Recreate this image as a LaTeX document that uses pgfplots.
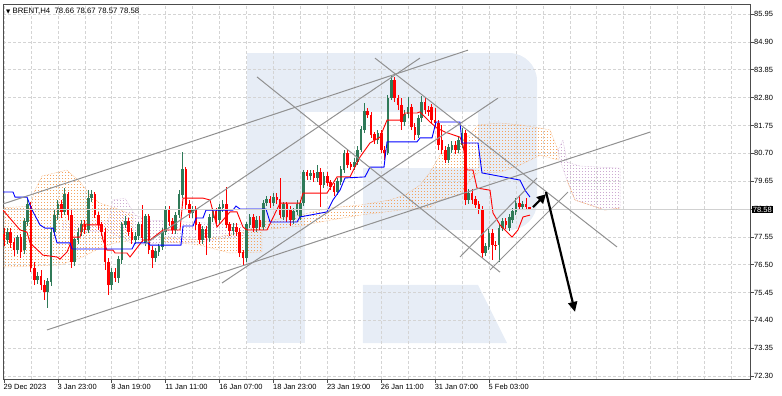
\documentclass[border=0pt]{standalone}
\usepackage{fontspec}
\setmainfont{Liberation Sans}
\newfontfamily\dejavu{DejaVu Sans}
\usepackage{pgfplots}
\usepackage{pgfplotstable}
\pgfplotsset{compat=1.18}
\usetikzlibrary{patterns,arrows.meta}

\definecolor{bull}{RGB}{47,122,88}
\definecolor{bear}{RGB}{255,0,0}
\definecolor{sandy}{RGB}{244,164,96}
\definecolor{thist}{RGB}{205,170,210}
\definecolor{logo}{RGB}{231,237,246}
\definecolor{gridc}{RGB}{212,212,212}
\definecolor{tline}{RGB}{145,145,145}
\definecolor{kij}{RGB}{0,0,255}

\pgfdeclarepatternformonly{ichi}{\pgfqpoint{0pt}{0pt}}{\pgfqpoint{3.368pt}{2.5pt}}{\pgfqpoint{3.368pt}{2.5pt}}{%
  \pgfpathrectangle{\pgfqpoint{0pt}{0pt}}{\pgfqpoint{1.0pt}{1.1pt}}\pgfusepath{fill}}

\pgfplotstableread{
i o h l c
0 77.62 77.88 77.20 77.43
1 77.43 77.88 77.28 77.73
2 77.73 77.88 77.13 77.32
3 77.32 77.51 76.83 77.05
4 77.05 77.62 76.90 77.51
5 77.51 77.66 76.75 76.98
6 77.05 78.26 76.90 78.11
7 78.11 79.01 77.96 78.75
8 78.71 78.86 76.22 76.37
9 76.37 76.60 75.73 75.92
10 75.92 76.22 75.77 76.07
11 76.07 76.30 75.55 75.73
12 75.73 75.92 75.17 75.47
13 75.47 76.00 74.87 75.85
14 75.85 77.88 75.70 77.73
15 77.73 78.56 77.58 78.37
16 78.37 78.94 78.18 78.75
17 78.75 78.94 78.26 78.49
18 78.49 79.39 78.37 79.13
19 79.13 79.24 78.18 78.37
20 78.37 78.56 76.37 76.60
21 76.60 77.51 76.45 77.43
22 77.43 77.88 77.28 77.73
23 77.73 78.18 77.58 78.03
24 78.03 78.18 77.66 77.81
25 77.81 79.31 77.69 79.01
26 79.01 79.31 78.86 79.13
27 79.13 79.24 78.26 78.37
28 78.37 78.49 77.81 78.00
29 78.00 78.11 77.58 77.73
30 77.73 77.88 76.30 76.60
31 76.60 76.75 75.36 75.73
32 75.73 76.37 75.55 76.22
33 76.22 76.37 75.85 76.00
34 76.00 76.83 75.81 76.68
35 76.68 78.11 76.53 78.00
36 78.00 78.33 77.88 78.11
37 78.11 78.26 77.58 77.73
38 77.73 77.88 77.28 77.43
39 77.43 77.73 77.28 77.58
40 77.58 78.11 77.43 78.00
41 78.00 78.75 77.35 77.51
42 77.32 78.41 77.20 78.30
43 78.30 78.41 76.90 77.05
44 77.05 77.20 76.37 76.75
45 76.75 77.13 76.60 76.98
46 76.98 77.28 76.83 77.17
47 77.17 77.88 77.05 77.73
48 77.73 78.71 77.62 78.56
49 78.56 78.71 77.96 78.11
50 78.11 78.26 77.66 77.81
51 77.81 78.49 77.66 78.37
52 78.37 79.31 78.26 79.13
53 79.13 80.75 79.01 80.07
54 80.07 80.18 78.56 78.75
55 78.75 78.94 78.26 78.45
56 78.45 78.71 78.26 78.56
57 78.56 78.71 77.81 78.00
58 78.00 78.11 77.28 77.43
59 77.43 77.96 77.28 77.81
60 77.81 77.96 76.86 77.51
61 77.51 78.41 77.35 78.26
62 78.26 78.64 78.11 78.49
63 78.49 78.64 78.03 78.18
64 78.18 78.79 78.03 78.64
65 78.64 78.94 78.49 78.75
66 78.75 79.43 77.88 78.00
67 78.00 78.11 77.58 77.77
68 77.77 78.07 77.62 77.92
69 77.92 78.07 77.58 77.73
70 77.73 77.88 76.79 76.94
71 76.94 77.05 76.49 76.75
72 76.75 78.11 76.60 78.00
73 78.00 78.41 77.88 78.26
74 78.26 78.41 77.73 77.88
75 77.88 78.33 77.73 78.18
76 78.18 78.33 77.81 77.92
77 77.92 78.94 77.81 78.82
78 78.82 79.09 78.71 78.94
79 78.94 79.09 78.64 78.82
80 78.82 79.20 78.71 79.05
81 79.05 79.20 78.79 78.94
82 78.94 79.77 78.26 78.37
83 78.30 78.86 78.18 78.75
84 78.75 78.86 78.11 78.30
85 78.56 78.71 77.96 78.18
86 78.18 78.64 78.03 78.49
87 78.49 78.94 78.37 78.75
88 78.30 78.94 78.18 78.82
89 78.82 80.07 78.71 79.96
90 79.96 80.07 79.69 79.84
91 79.84 80.07 79.69 79.92
92 79.92 80.07 79.62 79.77
93 79.77 80.26 79.62 79.99
94 79.99 80.14 78.67 79.50
95 79.50 79.99 79.39 79.84
96 79.84 79.99 79.47 79.58
97 79.58 79.69 79.31 79.43
98 79.43 79.58 79.09 79.24
99 79.24 79.77 79.13 79.62
100 79.62 80.22 79.50 80.07
101 80.07 80.82 79.96 80.71
102 80.71 80.82 80.14 80.26
103 80.26 80.37 80.07 80.18
104 80.18 80.52 80.07 80.37
105 80.37 80.97 80.26 80.82
106 80.82 81.73 80.75 81.58
107 81.58 82.60 81.46 82.26
108 82.29 82.41 82.03 82.14
109 82.14 82.26 81.28 81.39
110 81.39 81.50 81.05 81.20
111 81.20 81.58 81.05 81.46
112 81.46 81.58 80.71 80.82
113 80.82 80.97 80.45 80.71
114 80.71 82.90 80.63 82.78
115 82.78 83.65 82.71 83.46
116 83.46 83.58 82.63 82.78
117 82.78 82.90 82.33 82.52
118 82.52 82.78 81.58 81.88
119 81.88 82.33 81.73 82.18
120 82.18 82.82 82.03 82.41
121 82.41 82.56 81.58 81.69
122 81.69 81.84 81.20 81.39
123 81.39 82.14 81.28 82.03
124 82.03 82.86 81.88 82.63
125 82.63 82.78 82.18 82.33
126 82.33 82.48 82.11 82.26
127 82.41 82.56 81.80 81.95
128 81.95 82.41 81.69 81.84
129 81.84 81.95 80.82 81.01
130 81.20 81.77 80.67 80.82
131 80.82 80.97 80.33 80.45
132 80.45 81.05 80.33 80.90
133 80.82 81.16 80.71 81.01
134 81.01 81.16 80.67 80.82
135 80.82 81.35 80.71 81.20
136 81.01 81.65 80.90 81.46
137 81.46 81.58 78.75 78.94
138 78.94 79.35 78.79 79.20
139 79.20 79.35 78.79 78.94
140 78.94 79.09 78.64 78.75
141 78.75 78.90 78.41 78.56
142 78.56 78.71 76.75 76.94
143 76.94 77.32 76.83 77.17
144 77.17 77.84 77.05 77.69
145 77.69 77.84 76.68 77.24
146 77.24 77.39 77.05 77.20
147 77.24 78.03 76.60 77.88
148 77.88 78.26 77.77 78.11
149 78.11 78.26 77.84 78.00
150 77.88 78.41 77.77 78.26
151 78.18 78.64 78.07 78.49
152 78.49 79.01 78.37 78.79
153 78.79 79.13 78.56 78.67
154 78.67 78.90 78.56 78.75
155 78.75 79.01 78.56 78.67
156 78.66 78.67 78.57 78.58
}\candles

\pgfplotstableread{
x y
-0.3 79.24
2.67 79.24
3.27 79.05
6.83 79.05
8.02 78.64
10.69 78.00
12.17 77.88
14.55 77.88
15.74 77.32
19.60 77.32
20.19 77.09
38.00 77.09
38.90 77.32
42.76 77.32
43.35 77.24
52.55 77.24
53.15 77.96
56.12 77.96
57.01 78.26
59.09 78.26
59.98 78.56
67.99 78.56
68.88 78.71
70.07 78.60
77.79 78.60
78.98 78.11
86.99 78.11
87.89 78.30
95.90 78.49
97.68 78.94
99.76 79.31
101.25 79.77
107.19 79.81
108.67 80.18
112.83 80.18
113.72 81.13
122.62 81.13
123.52 81.28
127.08 81.28
128.27 81.88
135.39 81.88
135.99 81.09
140.74 81.09
141.92 79.96
153.21 79.69
154.69 79.31
156.18 79.05
}\kijun

\pgfplotstableread{
x y
-0.3 78.56
4.75 77.81
6.83 77.73
7.72 77.32
11.58 76.86
15.74 76.79
16.63 76.71
18.71 76.98
20.49 77.54
22.57 77.54
23.46 78.00
28.50 78.00
29.39 77.43
30.58 77.05
32.36 77.05
32.96 76.94
36.52 76.94
37.41 76.79
41.27 77.43
43.35 77.43
47.21 77.81
52.26 77.81
53.15 79.01
59.09 79.01
61.16 78.94
63.24 77.92
67.10 78.49
69.18 78.49
70.96 77.92
72.15 77.81
78.09 77.81
81.95 78.82
87.89 78.82
88.78 79.20
95.90 79.20
98.87 79.81
102.73 79.81
105.70 80.56
108.67 81.09
111.64 81.31
113.72 81.95
117.58 81.95
119.06 82.22
122.62 82.22
123.52 82.26
126.48 81.88
128.56 81.65
130.94 81.50
135.39 81.31
136.28 81.01
137.47 80.07
139.25 80.07
140.44 79.39
144.30 79.31
145.19 78.45
147.27 78.00
148.75 77.81
150.83 77.54
152.61 77.81
154.10 78.30
156.18 78.37
}\tenkan

\pgfplotsset{
  wick/.style={draw=none, mark=none, forget plot,
    error bars/y dir=plus, error bars/y explicit, error bars/error mark=none,
    error bars/error bar style={line width=1pt, draw=#1, solid}},
  body/.style={draw=none, mark=none, forget plot,
    error bars/y dir=plus, error bars/y explicit, error bars/error mark=none,
    error bars/error bar style={line width=2.6pt, draw=#1, solid}},
}

\begin{document}
\begin{tikzpicture}
\begin{axis}[
  set layers,
  scale only axis, width=747pt, height=375pt,
  xmin=-0.3, xmax=221.5, ymin=72.19, ymax=86.33,
  axis line style={black!70, line width=0.8pt},
  xtick={0,16,32,48,64,80,96,112,128,144},
  xticklabels={29 Dec 2023,3 Jan 23:00,8 Jan 19:00,11 Jan 11:00,16 Jan 07:00,18 Jan 23:00,23 Jan 19:00,26 Jan 11:00,31 Jan 07:00,5 Feb 03:00},
  minor xtick={0,8,...,216},
  xminorgrids, xmajorgrids=false,
  ytick={72.30,73.35,74.40,75.45,76.50,77.55,78.60,79.65,80.70,81.75,82.80,83.85,84.90,85.95},
  yticklabels={72.30,73.35,74.40,75.45,76.50,77.55,78.60,79.65,80.70,81.75,82.80,83.85,84.90,85.95},
  ymajorgrids,
  xtick pos=left, ytick pos=right, yticklabel pos=right,
  tick align=outside, major tick length=4pt, minor tick length=0pt,
  tick style={black!70, line width=0.6pt},
  grid style={gridc, dash pattern=on 2.5pt off 2.5pt, line width=0.6pt},
  minor grid style={gridc, dash pattern=on 2.5pt off 2.5pt, line width=0.6pt},
  ticklabel style={font=\fontsize{7.5}{8}\selectfont, text=black},
  xticklabel style={anchor=north west, xshift=-1.5pt, inner sep=1pt},
  yticklabel style={anchor=west, xshift=-1pt, inner sep=1pt},
]
% watermark logo
\begin{pgfonlayer}{axis background}
\fill[logo] (rel axis cs:0.3266,0.0960) rectangle (rel axis cs:0.4043,0.8693);
\fill[logo] (rel axis cs:0.4043,0.7120) rectangle (rel axis cs:0.6734,0.8693);
\fill[logo, rounded corners=28pt] (rel axis cs:0.6359,0.3973) rectangle (rel axis cs:0.7149,0.8693);
\fill[logo] (rel axis cs:0.4819,0.3973) rectangle (rel axis cs:0.6734,0.5627);
\fill[logo] (rel axis cs:0.4819,0.0960) -- (rel axis cs:0.4819,0.2507) -- (rel axis cs:0.6359,0.2507) -- (rel axis cs:0.6747,0.0960) -- cycle;
\end{pgfonlayer}

% Ichimoku cloud
\addplot[pattern=ichi, pattern color=sandy, draw=sandy, densely dotted, line width=0.5pt] coordinates {
(-0.3,78.64)(7.72,78.71)(9.20,79.31)(11.28,79.84)(18.71,80.07)(22.57,79.62)(25.53,79.13)(28.50,78.82)(32.96,78.64)(38.30,78.37)
(38.30,77.43)(32.96,77.32)(28.50,77.13)(22.57,76.75)(16.63,76.49)(-0.3,76.41)} -- cycle;
\addplot[pattern=ichi, pattern color=thist, draw=thist, densely dotted, line width=0.5pt] coordinates {
(17.52,78.11)(30.88,78.11)(32.36,78.94)(35.93,79.01)(38.90,78.37)(43.35,78.18)(53.74,78.11)(71.56,78.00)
(71.56,77.62)(58.19,77.35)(46.32,77.32)(38.90,77.24)(31.47,77.73)(17.52,77.81)} -- cycle;
\addplot[pattern=ichi, pattern color=sandy, draw=sandy, densely dotted, line width=0.5pt] coordinates {
(46.32,77.54)(58.19,77.43)(71.56,77.73)(76.60,78.11)(76.60,76.98)(67.10,76.94)(58.19,77.24)(46.32,77.39)} -- cycle;
\addplot[pattern=ichi, pattern color=sandy, draw=sandy, densely dotted, line width=0.5pt] coordinates {
(76.60,78.11)(87.89,78.37)(96.79,78.64)(105.70,78.75)(114.61,78.94)(119.06,79.13)(123.52,79.50)(126.48,79.99)(129.45,80.63)(133.91,81.01)(138.36,81.39)(140.74,81.77)(147.27,81.84)(153.21,81.77)(159.15,81.65)(162.11,81.58)(164.49,80.82)
(164.49,80.45)(159.15,80.63)(153.21,80.26)(147.27,79.99)(140.74,79.96)(138.36,79.69)(135.39,79.13)(129.45,78.94)(126.48,78.67)(117.58,78.56)(105.70,78.37)(96.79,78.18)(87.89,77.96)(76.60,77.81)} -- cycle;
\addplot[pattern=ichi, pattern color=thist, draw=thist, densely dotted, line width=0.5pt] coordinates {
(164.49,80.82)(165.97,81.20)(167.16,80.37)(171.02,80.22)(182.90,80.14)
(182.90,78.64)(178.44,78.56)(173.99,78.75)(169.53,78.94)(167.16,79.69)(165.08,80.45)} -- cycle;
\addplot[sandy, densely dotted, line width=0.7pt] coordinates {(167.16,79.69)(169.53,78.94)(173.99,78.75)(178.44,78.56)(182.90,78.64)};

% candles: wicks
\addplot[wick=bull, restrict expr to domain={\thisrow{c}-\thisrow{o}}{0:100}]
  table[x=i, y=l, y error expr=\thisrow{h}-\thisrow{l}] {\candles};
\addplot[wick=bear, restrict expr to domain={\thisrow{c}-\thisrow{o}}{-100:-0.0001}]
  table[x=i, y=l, y error expr=\thisrow{h}-\thisrow{l}] {\candles};
% candles: bodies
\addplot[body=bull, restrict expr to domain={\thisrow{c}-\thisrow{o}}{0:100}]
  table[x=i, y=o, y error expr=\thisrow{c}-\thisrow{o}+0.02] {\candles};
\addplot[body=bear, restrict expr to domain={\thisrow{c}-\thisrow{o}}{-100:-0.0001}]
  table[x=i, y=c, y error expr=\thisrow{o}-\thisrow{c}+0.02] {\candles};

% Tenkan / Kijun
\addplot[bear, line width=0.9pt, mark=none] table[x=x, y=y] {\tenkan};
\addplot[kij, line width=0.9pt, mark=none] table[x=x, y=y] {\kijun};

% price line
\addplot[black!18, line width=0.9pt, mark=none] coordinates {(-0.3,78.58)(221.5,78.58)};

% trend lines
\addplot[tline, line width=1pt, mark=none] coordinates {(-0.3,78.79)(137.77,84.59)};
\addplot[tline, line width=1pt, mark=none] coordinates {(12.77,74.04)(191.81,81.50)};
\addplot[tline, line width=1pt, mark=none] coordinates {(64.73,75.81)(146.67,82.78)};
\addplot[tline, line width=1pt, mark=none] coordinates {(41.86,77.28)(123.50,84.29)};
\addplot[tline, line width=1pt, mark=none] coordinates {(75.12,83.58)(147.27,76.22)};
\addplot[tline, line width=1pt, mark=none] coordinates {(110.15,84.29)(182.01,77.17)};
\addplot[tline, line width=1pt, mark=none] coordinates {(135.39,76.79)(158.25,79.77)};
\addplot[tline, line width=1pt, mark=none] coordinates {(144.30,76.30)(167.46,79.24)};

% arrows
\draw[black, line width=2.2pt, -{Triangle[length=9pt,width=9pt]}] (axis cs:157.07,78.67) -- (axis cs:160.93,79.16);
\draw[black, line width=2.2pt, -{Triangle[length=10pt,width=9pt]}] (axis cs:160.93,79.24) -- (axis cs:169.54,74.72);

\coordinate (pl) at (axis cs:221.5,78.58);
\end{axis}
\node[fill=black, text=white, anchor=west, inner sep=1.2pt, font=\fontsize{7.5}{8}\selectfont, xshift=1.5pt] at (pl) {78.58};
\node[anchor=north west, inner sep=0pt, font=\fontsize{7.8}{8}\selectfont] at ([xshift=3pt,yshift=-3.5pt]current axis.north west) {{\dejavu\fontsize{5.5}{5}\selectfont ▼} BRENT,H4\ \ 78.66 78.67 78.57 78.58};
\pgfresetboundingbox
\path[use as bounding box] ([xshift=-3pt,yshift=-17pt]current axis.south west) rectangle ([xshift=32pt,yshift=4pt]current axis.north east);
\end{tikzpicture}
\end{document}
